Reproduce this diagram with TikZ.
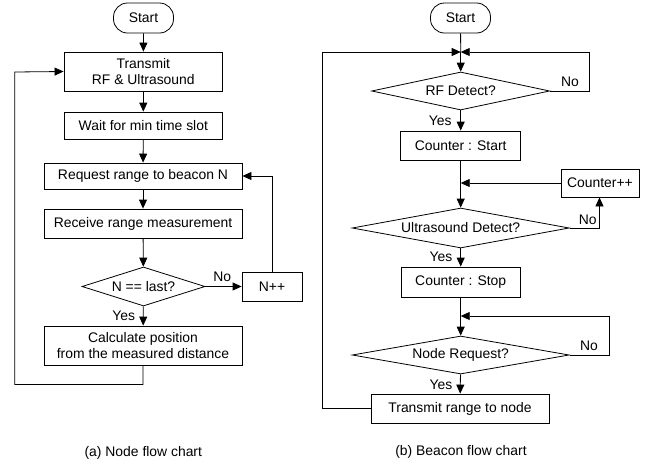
\documentclass[tikz,border=0pt]{standalone}
\usepackage{fontspec}
\setmainfont{Liberation Sans}
\usetikzlibrary{shapes.geometric,arrows.meta}
\begin{document}
\begin{tikzpicture}[x=1pt,y=-1pt,
  font=\fontsize{13.9}{16}\selectfont,
  line width=0.8pt,
  >={Triangle[length=9pt,width=8pt]},
  proc/.style={draw, rectangle, inner sep=0pt, align=center},
  term/.style={draw, rectangle, rounded corners=14pt, inner sep=0pt, minimum width=60pt, minimum height=30pt},
  dec/.style={draw, diamond, aspect=4, inner sep=0pt},
  lbl/.style={inner sep=0pt}]
\useasboundingbox (0,0) rectangle (654,464);

% ---------- left chart ----------
\node[term] (s1) at (143.5,18) {Start};
\node[proc, minimum width=158.7pt, minimum height=39pt] (tx) at (143.3,71.5) {Transmit\\RF \& Ultrasound};
\node[proc, minimum width=158.7pt, minimum height=27pt] (wait) at (143.3,125.5) {Wait for min time slot};
\node[proc, minimum width=198pt, minimum height=26pt] (req) at (143,176) {Request range to beacon N};
\node[proc, minimum width=198pt, minimum height=29pt] (recv) at (143,223.5) {Receive range measurement};
\node[dec, minimum width=123pt, minimum height=39pt] (last) at (143.5,286.5) {N == last?};
\node[proc, minimum width=60pt, minimum height=29pt] (npp) at (272,286.5) {N++};
\node[proc, minimum width=198pt, minimum height=39pt] (calc) at (143,345.5) {Calculate position\\from the measured distance};

\draw[->] (s1) -- (tx);
\draw[->] (tx) -- (wait);
\draw[->] (wait) -- (req);
\draw[->] (req) -- (recv);
\draw[->] (recv) -- (last);
\draw[->] (last) -- (npp);
\draw[->] (last) -- (calc);
\draw[->] (npp.north) |- (req.east);
\draw[->] (calc.south) -- ++(0,19) -| (14.7,72) -- (tx.west);
\node[lbl] (no1) at (222.3,277) {No};
\node[lbl] (yes1) at (123.7,316) {Yes};

% ---------- right chart ----------
\node[term] (s2) at (460.5,18) {Start};
\coordinate (j1) at (460.7,52);
\node[dec, minimum width=178pt, minimum height=38pt] (rf) at (460.7,91) {RF Detect?};
\node[proc, minimum width=120pt, minimum height=29pt] (cs) at (460.7,145.5) {Counter : Start};
\coordinate (j2) at (460.7,183);
\node[proc, minimum width=78pt, minimum height=28pt] (cpp) at (600,183) {Counter++};
\node[dec, minimum width=217pt, minimum height=38pt] (us) at (460.7,228) {Ultrasound Detect?};
\node[proc, minimum width=119pt, minimum height=30pt] (cst) at (460.7,282) {Counter : Stop};
\coordinate (j3) at (460.7,316);
\node[dec, minimum width=217pt, minimum height=38pt] (nr) at (460.7,355) {Node Request?};
\node[proc, minimum width=178pt, minimum height=29pt] (tr) at (460,408.5) {Transmit range to node};

\draw (s2) -- (j1);
\draw[->] (j1) -- (rf);
\draw[->] (rf.east) -- (589.3,91) -- (589.3,52) -- (j1);
\draw[->] (tr.west) -- (322.3,408.5) -- (322.3,52) -- (j1);
\draw[->] (rf) -- (cs);
\draw (cs) -- (j2);
\draw[->] (j2) -- (us);
\draw[->] (cpp.west) -- (j2);
\draw[->] (us.east) -- (599.5,228) -- (cpp.south -| 599.5,0);
\draw[->] (us) -- (cst);
\draw (cst) -- (j3);
\draw[->] (j3) -- (nr);
\draw[->] (nr.east) -- (609,355) -- (609,316) -- (j3);
\draw[->] (nr) -- (tr);
\node[lbl] (no2) at (570,82) {No};
\node[lbl] (yes2) at (440.3,120.5) {Yes};
\node[lbl] (no3) at (587.8,219.5) {No};
\node[lbl] (yes3) at (441,257) {Yes};
\node[lbl] (no4) at (589,345.5) {No};
\node[lbl] (yes4) at (441,384.7) {Yes};

% ---------- captions ----------
\node[lbl] (capa) at (143.3,453) {(a) Node flow chart};
\node[lbl] (capb) at (461,452) {(b) Beacon flow chart};
\end{tikzpicture}
\end{document}
